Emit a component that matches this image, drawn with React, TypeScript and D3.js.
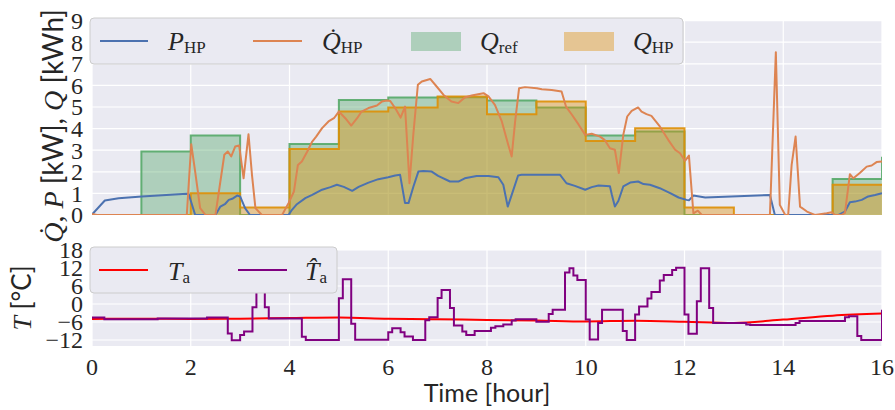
import React from "react";
import * as d3 from "d3";

// ---------- data ----------
const barHours = [0, 1, 2, 3, 4, 5, 6, 7, 8, 9, 10, 11, 12, 13, 14, 15, 16];
const qRef = [0, 2.94, 3.68, 0, 3.29, 5.32, 5.44, 5.45, 5.3, 4.98, 3.68, 3.87, 0, 0, 0, 1.67, 2.7];
const qHp = [0, 0, 1.01, 0.35, 3.06, 4.79, 4.98, 5.49, 4.67, 5.25, 3.43, 4.02, 0.35, 0, 0, 1.4, 1.4];

const pHp: [number, number][] = [
  [0, 0.02], [0.26, 0.67], [0.54, 0.78], [1.01, 0.86], [1.92, 0.98], [1.96, 0.96], [2.09, 0], [2.5, 0],
  [2.6, 0.39], [2.7, 0.52], [2.77, 0.7], [2.84, 0.75], [2.94, 0.9], [3.0, 0.86], [3.1, 0.32], [3.2, 0],
  [3.98, 0], [4.05, 0.24], [4.15, 0.5], [4.32, 0.78], [4.46, 0.93], [4.66, 1.17], [4.83, 1.29], [4.96, 1.4],
  [5.1, 1.3], [5.27, 1.12], [5.4, 1.3], [5.6, 1.5], [5.8, 1.66], [6.0, 1.75], [6.14, 1.83], [6.24, 1.86],
  [6.34, 0.55], [6.41, 0.55], [6.51, 1.32], [6.61, 2.01], [6.71, 2.04], [6.88, 2.01], [7.01, 1.81],
  [7.25, 1.55], [7.42, 1.55], [7.55, 1.7], [7.79, 1.81], [8.03, 1.81], [8.23, 1.75], [8.33, 1.4],
  [8.42, 0.39], [8.5, 0.93], [8.63, 1.83], [8.7, 1.86], [9.48, 1.86], [9.61, 1.47], [9.78, 1.35],
  [9.99, 1.17], [10.12, 1.29], [10.26, 1.37], [10.49, 1.33], [10.53, 0.93], [10.59, 0.39], [10.66, 0.65],
  [10.76, 1.32], [10.9, 1.5], [11.06, 1.55], [11.17, 1.43], [11.3, 1.4], [11.5, 1.24], [11.71, 1.01],
  [11.88, 0.81], [12.04, 0.7], [12.09, 0.68], [12.18, 0.9], [12.42, 0.81], [13.73, 0.93], [13.83, 0],
  [15.12, 0], [15.25, 0.16], [15.35, 0.59], [15.45, 0.62], [15.59, 0.7], [15.72, 0.86], [15.86, 0.93],
  [16.0, 1.01],
];

const qDotHp: [number, number][] = [
  [0, 0.05], [0.1, 0], [1.92, 0], [2.01, 3.28], [2.09, 2.0], [2.19, 0.32], [2.3, 0], [2.5, 0], [2.6, 1.55],
  [2.68, 2.79], [2.75, 2.94], [2.82, 2.71], [2.9, 3.17], [2.98, 3.22], [3.07, 1.7], [3.17, 3.74],
  [3.24, 1.86], [3.31, 0.32], [3.44, 0], [3.85, 0], [3.98, 0.55], [4.09, 1.09], [4.17, 2.32], [4.25, 2.48],
  [4.36, 2.94], [4.46, 3.4], [4.54, 3.63], [4.66, 4.02], [4.79, 4.33], [4.9, 4.48], [5.0, 4.79],
  [5.13, 4.48], [5.25, 4.14], [5.37, 4.48], [5.46, 4.79], [5.6, 4.95], [5.77, 5.07], [5.87, 5.25],
  [5.97, 5.3], [6.04, 5.28], [6.14, 4.95], [6.25, 4.51], [6.34, 5.02], [6.43, 1.47], [6.51, 3.79],
  [6.6, 6.03], [6.68, 6.18], [6.85, 6.3], [6.98, 5.95], [7.12, 5.56], [7.28, 5.25], [7.42, 5.18],
  [7.55, 5.44], [7.69, 5.53], [7.82, 5.59], [7.93, 5.64], [8.03, 5.49], [8.16, 5.1], [8.3, 4.33],
  [8.43, 3.25], [8.5, 2.71], [8.57, 4.33], [8.65, 5.87], [8.77, 5.92], [9.01, 5.87], [9.11, 5.82],
  [9.31, 5.79], [9.51, 5.72], [9.6, 5.02], [9.72, 4.64], [9.86, 4.17], [9.99, 3.71], [10.12, 3.76],
  [10.29, 3.63], [10.38, 3.48], [10.49, 3.09], [10.59, 3.02], [10.67, 1.94], [10.76, 3.71], [10.84, 4.56],
  [10.93, 4.82], [11.06, 4.98], [11.13, 4.79], [11.23, 4.67], [11.33, 4.59], [11.5, 4.1], [11.67, 3.48],
  [11.81, 3.02], [11.91, 2.86], [12.01, 2.51], [12.09, 2.75], [12.18, 0.08], [12.27, 0.2], [12.35, 0],
  [13.73, 0], [13.85, 7.54], [13.93, 0.47], [14.04, 0], [14.1, 0], [14.17, 2.32], [14.25, 3.63],
  [14.34, 0.39], [14.48, 0.16], [14.64, 0], [14.88, 0.08], [14.98, 0.13], [15.05, 0], [15.18, 0],
  [15.25, 0.1], [15.35, 1.89], [15.42, 1.7], [15.55, 1.94], [15.69, 2.24], [15.79, 2.29], [15.89, 2.45],
  [16.0, 2.48],
];

const taHours = [0, 1, 2, 3, 4, 5, 6, 7, 8, 9, 10, 11, 12, 13, 14, 15, 16];
const taValues = [-5.0, -4.9, -5.0, -4.9, -4.7, -4.5, -4.9, -5.1, -5.3, -5.5, -5.8, -5.6, -5.9, -6.3, -5.2, -3.9, -3.2];

const taHat: [number, number][] = [
  [0, -4.5], [0.25, -5.1], [1.33, -4.8], [2.33, -4.5], [2.75, -9.8], [2.83, -12.1], [3.0, -10.3],
  [3.08, -9.2], [3.25, -1.1], [3.33, 12], [3.5, -1.1], [3.58, -4.8], [4.25, -10.9], [4.33, -12.0],
  [5.0, 1.9], [5.08, 8.25], [5.25, -6.6], [5.33, -11.9], [6.0, -9.4], [6.08, -8.1], [6.25, -9.4],
  [6.33, -10.8], [6.5, -12.0], [6.75, -5.4], [6.83, -4.4], [7.0, 2.0], [7.08, 4.7], [7.25, -1.3],
  [7.33, -7.2], [7.5, -9.2], [7.58, -10.3], [7.75, -9.0], [8.08, -7.9], [8.17, -7.4], [8.33, -6.8],
  [8.5, -5.5], [8.58, -5.1], [9.0, -5.9], [9.25, -3.3], [9.33, -1.9], [9.58, 10.5], [9.67, 11.9],
  [9.75, 9.5], [9.83, 8.0], [10.0, -5.2], [10.08, -11.8], [10.25, -6.3], [10.33, -1.9], [10.75, -9.0],
  [10.83, -12.0], [11.0, -3.5], [11.08, -0.8], [11.25, 1.8], [11.33, 4.0], [11.5, 7.8], [11.58, 9.7],
  [11.75, 11.3], [11.83, 12.1], [12.0, -3.5], [12.08, -9.9], [12.25, 0.9], [12.33, 11.9], [12.5, -1.3],
  [12.58, -6.3], [13.25, -6.8], [13.33, -7.0], [14.25, -6.3], [14.33, -5.7], [15.25, -4.4], [15.33, -4.1],
  [15.5, -10.7], [15.58, -12.0], [16.0, -1.9],
];

const xTicks = [0, 2, 4, 6, 8, 10, 12, 14, 16];
const yTopTicks = [0, 1, 2, 3, 4, 5, 6, 7, 8, 9];
const yBotTicks = [-12, -6, 0, 6, 12, 18];

// ---------- style ----------
const BG = "#EAEAF2";
const C_P = "#4C72B0";
const C_QD = "#DD8452";
const C_REF = "#55A868";
const C_QHP = "#DE8F05";
const C_TA = "#FF0000";
const C_TH = "#800080";
const SERIF = "'Liberation Serif', 'DejaVu Serif', serif";
const SANS = "Lato, 'Open Sans', sans-serif";
const TXT = "#262626";

export default function App() {
  const W = 895, H = 410;
  const L = 92, R = 882;
  const topT = 20.6, topB = 215;
  const botT = 250, botB = 346;

  const x = d3.scaleLinear().domain([0, 16]).range([L, R]);
  const yT = d3.scaleLinear().domain([0, 9]).range([topB, topT]);
  const yB = d3.scaleLinear().domain([-14, 18]).range([botB, botT]);

  const refPts = barHours.map((h, i) => [h, qRef[i]] as [number, number]);
  const hpPts = barHours.map((h, i) => [h, qHp[i]] as [number, number]);

  const stepArea = d3.area<[number, number]>().x(d => x(d[0])).y0(yT(0)).y1(d => yT(d[1])).curve(d3.curveStepAfter);
  const stepLine = d3.line<[number, number]>().x(d => x(d[0])).y(d => yT(d[1])).curve(d3.curveStepAfter);
  const lineT = d3.line<[number, number]>().x(d => x(d[0])).y(d => yT(d[1]));
  const taPts = taHours.map((h, i) => [h, taValues[i]] as [number, number]);
  const lineTa = d3.line<[number, number]>().x(d => x(d[0])).y(d => yB(d[1])).curve(d3.curveMonotoneX);
  const lineTh = d3.line<[number, number]>().x(d => x(d[0])).y(d => yB(d[1])).curve(d3.curveStepAfter);

  return (
    <svg width={W} height={H} style={{ position: "absolute", left: 0, top: 0, background: "#fff" }}>
      <defs>
        <clipPath id="clipTop"><rect x={L} y={topT} width={R - L} height={topB - topT} /></clipPath>
        <clipPath id="clipBot"><rect x={L} y={botT} width={R - L} height={botB - botT} /></clipPath>
      </defs>

      {/* ---------- top panel ---------- */}
      <rect x={L} y={topT} width={R - L} height={topB - topT} fill={BG} />
      {yTopTicks.map(t => (
        <line key={"gy" + t} x1={L} x2={R} y1={yT(t)} y2={yT(t)} stroke="#fff" strokeWidth={1.2} />
      ))}
      {xTicks.map(t => (
        <line key={"gx" + t} x1={x(t)} x2={x(t)} y1={topT} y2={topB} stroke="#fff" strokeWidth={1.2} />
      ))}
      <g clipPath="url(#clipTop)">
        <path d={stepArea(refPts) || ""} fill={C_REF} fillOpacity={0.4} />
        <path d={stepLine(refPts) || ""} fill="none" stroke={C_REF} strokeWidth={2} strokeOpacity={0.9} />
        <path d={stepArea(hpPts) || ""} fill={C_QHP} fillOpacity={0.4} />
        <path d={stepLine(hpPts) || ""} fill="none" stroke={C_QHP} strokeWidth={2} strokeOpacity={0.9} />
        <path d={lineT(pHp) || ""} fill="none" stroke={C_P} strokeWidth={2} strokeLinejoin="round" />
        <path d={lineT(qDotHp) || ""} fill="none" stroke={C_QD} strokeWidth={2} strokeLinejoin="round" />
      </g>
      {yTopTicks.map(t => (
        <text key={"ty" + t} x={83} y={yT(t)} dy="0.35em" textAnchor="end" fontFamily={SERIF} fontSize={24} fill={TXT}>{t}</text>
      ))}
      <text transform={`translate(63,126) rotate(-90)`} textAnchor="middle" fontSize={28} fill={TXT}>
        <tspan fontFamily={SERIF} fontStyle="italic">{"Q\u0307"}</tspan>
        <tspan fontFamily={SERIF}>{", "}</tspan>
        <tspan fontFamily={SERIF} fontStyle="italic">P</tspan>
        <tspan fontFamily={SANS}>{" [kW], "}</tspan>
        <tspan fontFamily={SERIF} fontStyle="italic">Q</tspan>
        <tspan fontFamily={SANS}>{" [kWh]"}</tspan>
      </text>

      {/* top legend */}
      <rect x={90} y={18} width={593} height={46} rx={4} fill={BG} stroke="#CCCCCC" strokeWidth={1} />
      <line x1={100} x2={148} y1={41} y2={41} stroke={C_P} strokeWidth={2} />
      <text x={168} y={50} fontFamily={SERIF} fontSize={26} fill={TXT}>
        <tspan fontStyle="italic">P</tspan><tspan fontSize={17} dy={3}>HP</tspan>
      </text>
      <line x1={253} x2={302} y1={41} y2={41} stroke={C_QD} strokeWidth={2} />
      <text x={322} y={50} fontFamily={SERIF} fontSize={26} fill={TXT}>
        <tspan fontStyle="italic">{"Q\u0307"}</tspan><tspan fontSize={17} dy={3}>HP</tspan>
      </text>
      <rect x={411} y={32} width={50} height={19} fill={C_REF} fillOpacity={0.4} />
      <text x={480} y={50} fontFamily={SERIF} fontSize={26} fill={TXT}>
        <tspan fontStyle="italic">Q</tspan><tspan fontSize={17} dy={3}>ref</tspan>
      </text>
      <rect x={564} y={32} width={50} height={19} fill={C_QHP} fillOpacity={0.4} />
      <text x={633} y={50} fontFamily={SERIF} fontSize={26} fill={TXT}>
        <tspan fontStyle="italic">Q</tspan><tspan fontSize={17} dy={3}>HP</tspan>
      </text>

      {/* ---------- bottom panel ---------- */}
      <rect x={L} y={botT} width={R - L} height={botB - botT} fill={BG} />
      {yBotTicks.map(t => (
        <line key={"gby" + t} x1={L} x2={R} y1={yB(t)} y2={yB(t)} stroke="#fff" strokeWidth={1.2} />
      ))}
      {xTicks.map(t => (
        <line key={"gbx" + t} x1={x(t)} x2={x(t)} y1={botT} y2={botB} stroke="#fff" strokeWidth={1.2} />
      ))}
      <g clipPath="url(#clipBot)">
        <path d={lineTa(taPts) || ""} fill="none" stroke={C_TA} strokeWidth={2} />
        <path d={lineTh(taHat) || ""} fill="none" stroke={C_TH} strokeWidth={2} />
      </g>
      {yBotTicks.map(t => (
        <text key={"tby" + t} x={83} y={yB(t)} dy="0.35em" textAnchor="end" fontFamily={SERIF} fontSize={24} fill={TXT}>
          {t < 0 ? "\u2212" + Math.abs(t) : String(t)}
        </text>
      ))}
      {xTicks.map(t => (
        <text key={"tx" + t} x={x(t)} y={375} textAnchor="middle" fontFamily={SERIF} fontSize={24} fill={TXT}>{t}</text>
      ))}
      <text x={(L + R) / 2} y={402} textAnchor="middle" fontFamily={SANS} fontSize={25} fill={TXT}>Time [hour]</text>
      <text transform={`translate(31,${(botT + botB) / 2}) rotate(-90)`} textAnchor="middle" fontSize={26} fill={TXT}>
        <tspan fontFamily={SERIF} fontStyle="italic">T</tspan>
        <tspan fontFamily={SANS}>{" [\u00B0C]"}</tspan>
      </text>

      {/* bottom legend */}
      <rect x={90} y={247} width={247} height={46} rx={4} fill={BG} stroke="#CCCCCC" strokeWidth={1} />
      <line x1={99} x2={148} y1={270} y2={270} stroke={C_TA} strokeWidth={2} />
      <text x={168} y={280} fontFamily={SERIF} fontSize={26} fill={TXT}>
        <tspan fontStyle="italic">T</tspan><tspan fontSize={17} dy={3}>a</tspan>
      </text>
      <line x1={238} x2={287} y1={270} y2={270} stroke={C_TH} strokeWidth={2} />
      <text x={305} y={280} fontFamily={SERIF} fontSize={26} fill={TXT}>
        <tspan fontStyle="italic">{"T\u0302"}</tspan><tspan fontSize={17} dy={3}>a</tspan>
      </text>
    </svg>
  );
}
